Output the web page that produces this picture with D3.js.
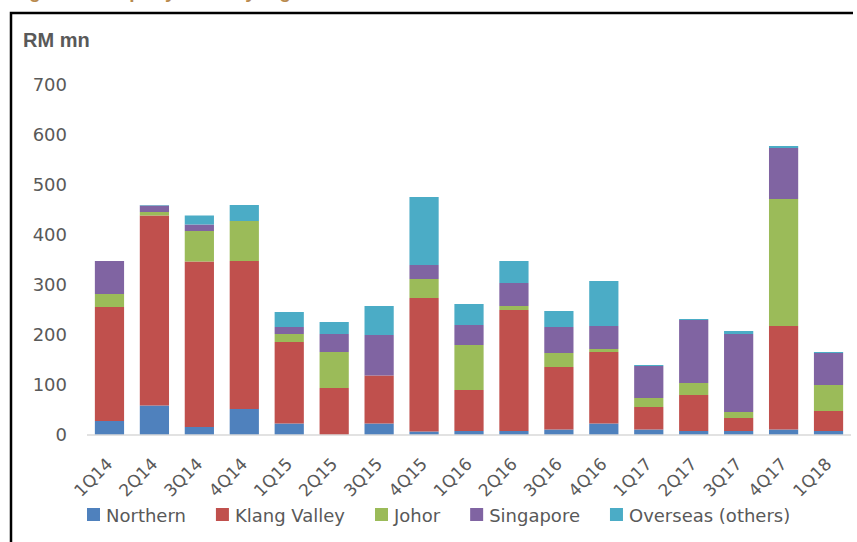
<!DOCTYPE html>
<html>
<head>
<meta charset="utf-8">
<script src="https://cdn.jsdelivr.net/npm/d3@7"></script>
<style>
  body { margin: 0; background: #fff; }
  svg { display: block; }
</style>
</head>
<body>
<div class="wrapper"></div>
<script>
var quarters = ["1Q14", "2Q14", "3Q14", "4Q14", "1Q15", "2Q15", "3Q15", "4Q15", "1Q16",
  "2Q16", "3Q16", "4Q16", "1Q17", "2Q17", "3Q17", "4Q17", "1Q18"];
var regions = ["Northern", "Klang Valley", "Johor", "Singapore", "Overseas (others)"];
var northern = [28, 59, 16, 52, 23, 0, 23, 7, 8, 8, 11, 23, 11, 8, 8, 11, 8];
var klangValley = [228, 380, 331, 296, 163, 94, 96, 267, 82, 242, 125, 143, 45, 72, 26, 207, 40];
var johor = [26, 7, 61, 80, 16, 72, 0, 38, 90, 8, 28, 6, 18, 24, 12, 254, 52];
var singapore = [66, 13, 13, 0, 14, 36, 81, 28, 40, 46, 52, 46, 64, 126, 156, 102, 64];
var overseas = [0, 1, 18, 32, 30, 24, 58, 136, 42, 44, 32, 90, 2, 2, 6, 4, 2];
var yTicks = [0, 100, 200, 300, 400, 500, 600, 700];
var colors = ["#4F81BD", "#C0504D", "#9BBB59", "#8064A2", "#4BACC6"];

var width = 857, height = 542;
var svg = d3.select(".wrapper").append("svg")
  .attr("width", width)
  .attr("height", height);

// rows for the stack, built from the arrays above
var series = [northern, klangValley, johor, singapore, overseas];
var rows = quarters.map(function(q, i) {
  var row = { quarter: q };
  regions.forEach(function(r, j) { row[r] = series[j][i]; });
  return row;
});
var stacked = d3.stack().keys(regions)(rows);

var x = d3.scaleBand()
  .domain(quarters)
  .range([87, 851])
  .paddingInner(0.35)
  .paddingOuter(0.175);
var y = d3.scaleLinear().domain([0, 700]).range([435, 85]);

// title (cut off at the top of the picture, as in the source)
svg.append("text")
  .attr("x", 12)
  .attr("y", -2)
  .style("font-family", "Liberation Sans, Arial, sans-serif")
  .style("font-weight", "bold")
  .style("font-size", "19px")
  .style("fill", "#B98A4E")
  .text("Figure 5: Property sales by region");

// frame
svg.append("path")
  .attr("d", "M11,542 V13 H853")
  .attr("fill", "none")
  .attr("stroke", "#000")
  .attr("stroke-width", 2.5);

svg.append("text")
  .attr("x", 23)
  .attr("y", 47)
  .style("font-family", "Liberation Sans, Arial, sans-serif")
  .style("font-weight", "bold")
  .style("font-size", "20px")
  .style("fill", "#595959")
  .text("RM mn");

// bars
var layers = svg.append("g").selectAll("g")
  .data(stacked)
  .enter().append("g")
  .attr("fill", function(d, i) { return colors[i]; });

layers.selectAll("rect")
  .data(function(d) { return d; })
  .enter().append("rect")
  .attr("x", function(d) { return x(d.data.quarter); })
  .attr("width", x.bandwidth())
  .attr("y", function(d) { return y(d[1]); })
  .attr("height", function(d) { return y(d[0]) - y(d[1]); });

// baseline
svg.append("line")
  .attr("x1", 87).attr("x2", 851)
  .attr("y1", y(0)).attr("y2", y(0))
  .attr("stroke", "#D9D9D9")
  .attr("stroke-width", 1.5);

// y axis labels
var yAxis = d3.axisLeft(y).tickValues(yTicks).tickSize(0).tickPadding(0);
var yG = svg.append("g")
  .attr("transform", "translate(67,0)")
  .call(yAxis);
yG.select(".domain").remove();
yG.selectAll("text")
  .style("font-family", "DejaVu Sans, Verdana, sans-serif")
  .style("font-size", "18px")
  .style("fill", "#595959");

// x axis labels, rotated
var xAxis = d3.axisBottom(x).tickSize(0).tickPadding(0);
var xG = svg.append("g")
  .attr("transform", "translate(0,461)")
  .call(xAxis);
xG.select(".domain").remove();
xG.selectAll("text")
  .attr("y", 0)
  .attr("dy", "0.35em")
  .attr("transform", "rotate(-45)")
  .style("text-anchor", "end")
  .style("font-family", "DejaVu Sans, Verdana, sans-serif")
  .style("font-size", "17px")
  .style("fill", "#595959");

// legend
var legend = svg.append("g").attr("transform", "translate(87,508)");
var lx = 0;
regions.forEach(function(r, i) {
  var item = legend.append("g").attr("transform", "translate(" + lx + ",0)");
  item.append("rect")
    .attr("width", 13).attr("height", 13)
    .attr("fill", colors[i]);
  var t = item.append("text")
    .attr("x", 19)
    .attr("y", 14)
    .style("font-family", "DejaVu Sans, Verdana, sans-serif")
    .style("font-size", "18px")
    .style("fill", "#595959")
    .text(r);
  lx += 19 + t.node().getComputedTextLength() + 30;
});
</script>
</body>
</html>
